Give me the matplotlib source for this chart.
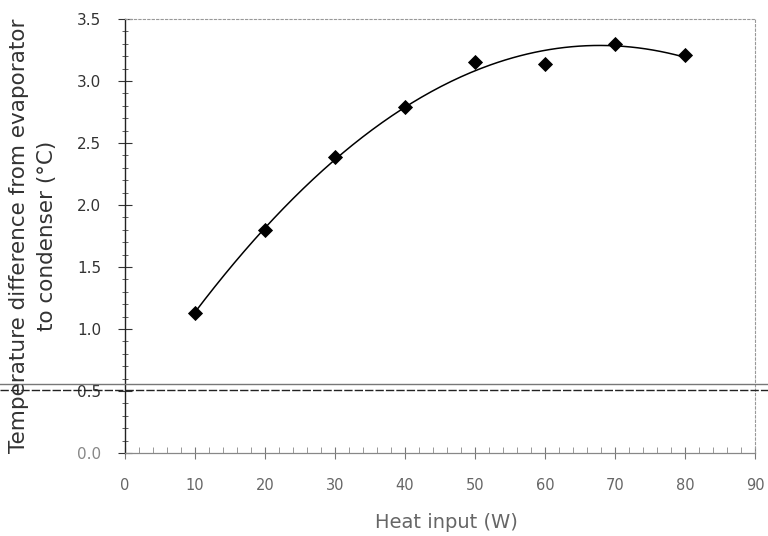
import numpy as np
import matplotlib
matplotlib.use("Agg")
import matplotlib.pyplot as plt
from matplotlib.ticker import MultipleLocator
from matplotlib.lines import Line2D

# Heat input (W) and measured evaporator-to-condenser temperature difference (°C)
heat_input = [10, 20, 30, 40, 50, 60, 70, 80]
temp_diff = [1.13, 1.80, 2.39, 2.79, 3.15, 3.14, 3.30, 3.21]

x_ticks = [0, 10, 20, 30, 40, 50, 60, 70, 80, 90]
y_ticks = [0.0, 0.5, 1.0, 1.5, 2.0, 2.5, 3.0, 3.5]

plt.rcParams['font.family'] = ['DejaVu Sans']

fig = plt.figure(figsize=(7.68, 5.36), dpi=100)
ax = fig.add_axes([125 / 768, 1 - 453 / 536, (755 - 125) / 768, (453 - 19) / 536])

# second-order polynomial trend through the measurements
coef = np.polyfit(heat_input, temp_diff, 2)
xs = np.linspace(min(heat_input), max(heat_input), 200)
ax.plot(xs, np.polyval(coef, xs), color='black', lw=1.1, zorder=2)
ax.plot(heat_input, temp_diff, linestyle='none', marker='D', markersize=7,
        markerfacecolor='black', markeredgecolor='black', markeredgewidth=0.6,
        zorder=3)

ax.set_xlim(0, 90)
ax.set_ylim(0, 3.5)
ax.set_xticks(x_ticks)
ax.set_yticks(y_ticks)
ax.set_xticklabels([str(v) for v in x_ticks])
ax.set_yticklabels([f"{v:.1f}" for v in y_ticks])
ax.xaxis.set_minor_locator(MultipleLocator(2))
ax.yaxis.set_minor_locator(MultipleLocator(0.1))

ax.tick_params(axis='x', which='major', direction='inout', length=8, width=0.8,
               color='#777777', pad=14, labelsize=10.5, labelcolor='#666666')
ax.tick_params(axis='x', which='minor', direction='in', length=4, width=0.6,
               color='#888888')
ax.tick_params(axis='y', which='major', direction='inout', length=10, width=0.8,
               color='#333333', pad=12, labelsize=11, labelcolor='#333333')
ax.tick_params(axis='y', which='minor', direction='inout', length=4, width=0.6,
               color='#444444')

ax.get_yticklabels()[0].set_color('#888888')

ax.spines['left'].set_color('#222222')
ax.spines['left'].set_linewidth(1.0)
ax.spines['bottom'].set_color('#888888')
ax.spines['bottom'].set_linewidth(0.9)
for side in ('top', 'right'):
    ax.spines[side].set_color('#999999')
    ax.spines[side].set_linewidth(0.8)
    ax.spines[side].set_linestyle((0, (2, 2)))

fig.text(446 / 768, 1 - 523 / 536, 'Heat input (W)', fontsize=14,
         color='#666666', ha='center', va='center')
fig.text(33 / 768, 1 - 236 / 536,
         'Temperature difference from evaporator\nto condenser (°C)',
         fontsize=15.5, color='#333333', ha='center', va='center',
         rotation=90, multialignment='center', linespacing=1.45)

# horizontal rules across the sheet
fig.add_artist(Line2D([0, 1], [1 - 384 / 536] * 2, transform=fig.transFigure,
                      color='#777777', lw=1.0))
fig.add_artist(Line2D([0, 1], [1 - 389.5 / 536] * 2, transform=fig.transFigure,
                      color='#222222', lw=1.0, linestyle=(0, (6, 1.5))))

fig.savefig('out.png', dpi=100)
